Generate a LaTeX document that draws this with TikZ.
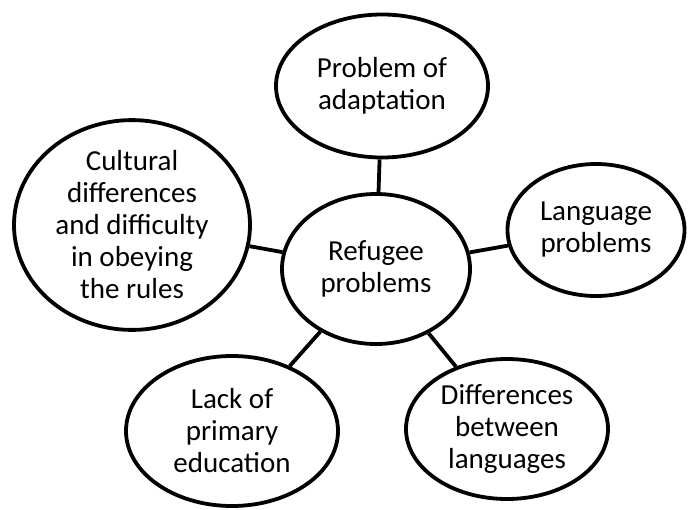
\documentclass[tikz,border=0pt]{standalone}
\usepackage{fontspec}
\setmainfont{Carlito}
\usetikzlibrary{shapes.geometric}
\begin{document}
\begin{tikzpicture}[x=1pt,y=-1pt,
  bubble/.style={ellipse,draw=black,line width=3.8pt,fill=white,inner sep=0pt,
    align=center,font=\fontsize{29}{32}\selectfont},
  link/.style={line width=3.8pt,draw=black}]
  \useasboundingbox (0,0) rectangle (688,509);
  % central topic
  \node[bubble,minimum width=188pt,minimum height=150pt] (hub) at (376,269) {Refugee\\problems};
  % surrounding problems
  \node[bubble,minimum width=212pt,minimum height=143pt] (adapt) at (382,86) {Problem of\\adaptation};
  \node[bubble,minimum width=236pt,minimum height=188pt] (culture) at (132,225) {Cultural\\differences\\and difficulty\\in obeying\\the rules};
  \node[bubble,minimum width=177pt,minimum height=132pt] (lang) at (596,230) {Language\\problems};
  \node[bubble,minimum width=212pt,minimum height=150pt] (edu) at (232,431) {Lack of\\primary\\education};
  \node[bubble,minimum width=202pt,minimum height=140pt] (diff) at (507,429) {Differences\\between\\languages};
  % spokes
  \draw[link] (hub) -- (adapt);
  \draw[link] (hub) -- (culture);
  \draw[link] (hub) -- (lang);
  \draw[link] (hub) -- (edu);
  \draw[link] (hub) -- (diff);
\end{tikzpicture}
\end{document}
